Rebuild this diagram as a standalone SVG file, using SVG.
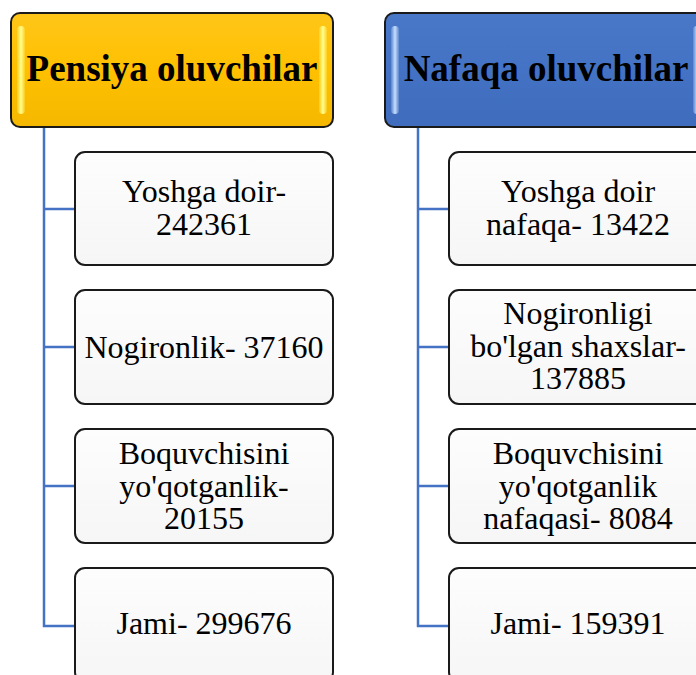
<svg xmlns="http://www.w3.org/2000/svg" width="696" height="675" viewBox="0 0 696 675">
<defs>
<linearGradient id="boxg" x1="0" y1="0" x2="0" y2="1">
<stop offset="0" stop-color="#fdfdfd"/>
<stop offset="1" stop-color="#f6f6f6"/>
</linearGradient>
<linearGradient id="yel" x1="0" y1="0" x2="0" y2="1">
<stop offset="0" stop-color="#ffc61a"/>
<stop offset="0.5" stop-color="#ffc000"/>
<stop offset="1" stop-color="#f5b800"/>
</linearGradient>
<linearGradient id="blu" x1="0" y1="0" x2="0" y2="1">
<stop offset="0" stop-color="#4a78c8"/>
<stop offset="0.5" stop-color="#4472c4"/>
<stop offset="1" stop-color="#3f6cbc"/>
</linearGradient>
<linearGradient id="yhl" x1="0" y1="0" x2="1" y2="0">
<stop offset="0" stop-color="#ffff80" stop-opacity="0.2"/>
<stop offset="0.5" stop-color="#ffff90" stop-opacity="1"/>
<stop offset="1" stop-color="#ffff80" stop-opacity="0.2"/>
</linearGradient>
<linearGradient id="bhl" x1="0" y1="0" x2="1" y2="0">
<stop offset="0" stop-color="#b8d4f8" stop-opacity="0.2"/>
<stop offset="0.5" stop-color="#c8e0ff" stop-opacity="1"/>
<stop offset="1" stop-color="#b8d4f8" stop-opacity="0.2"/>
</linearGradient>
</defs>
<style>
.hdr{stroke:#1a1a1a;stroke-width:2}
.ht{font-family:"Liberation Serif","Times New Roman",serif;font-weight:bold;font-size:37px;fill:#000;text-anchor:middle}
.box{fill:url(#boxg);stroke:#1a1a1a;stroke-width:2}
.bt{font-family:"Liberation Serif","Times New Roman",serif;font-size:32px;fill:#000;text-anchor:middle}
.con{fill:none;stroke:#4472c4;stroke-width:2.5}
</style>
<rect width="696" height="675" fill="#ffffff"/>
<g id="connectors">
<path class="con" d="M44,127 V626 H75 M44,209 H75 M44,347 H75 M44,486 H75"/>
<path class="con" d="M418,127 V626 H449 M418,209 H449 M418,347 H449 M418,486 H449"/>
</g>
<g id="pensiya">
<rect class="hdr" x="11" y="13" width="322" height="114" rx="9" fill="url(#yel)"/>
<rect x="17" y="26" width="8" height="88" rx="4" fill="url(#yhl)"/>
<rect x="319" y="26" width="8" height="88" rx="4" fill="url(#yhl)"/>
<text class="ht" x="172" y="81">Pensiya oluvchilar</text>
</g>
<g id="nafaqa">
<rect class="hdr" x="385" y="13" width="322" height="114" rx="9" fill="url(#blu)"/>
<rect x="391" y="26" width="8" height="88" rx="4" fill="url(#bhl)"/>
<rect x="693" y="26" width="8" height="88" rx="4" fill="url(#bhl)"/>
<text class="ht" x="546" y="81">Nafaqa oluvchilar</text>
</g>
<g id="p1">
<rect class="box" x="75" y="152" width="258" height="113" rx="10"/>
<text class="bt" x="204" y="202">Yoshga doir-</text>
<text class="bt" x="204" y="235">242361</text>
</g>
<g id="p2">
<rect class="box" x="75" y="290" width="258" height="114" rx="10"/>
<text class="bt" x="204" y="358">Nogironlik- 37160</text>
</g>
<g id="p3">
<rect class="box" x="75" y="429" width="258" height="114" rx="10"/>
<text class="bt" x="204" y="464">Boquvchisini</text>
<text class="bt" x="204" y="497">yo'qotganlik-</text>
<text class="bt" x="204" y="529">20155</text>
</g>
<g id="p4">
<rect class="box" x="75" y="568" width="258" height="114" rx="10"/>
<text class="bt" x="204" y="634">Jami- 299676</text>
</g>
<g id="n1">
<rect class="box" x="449" y="152" width="258" height="113" rx="10"/>
<text class="bt" x="578" y="202">Yoshga doir</text>
<text class="bt" x="578" y="235">nafaqa- 13422</text>
</g>
<g id="n2">
<rect class="box" x="449" y="290" width="258" height="114" rx="10"/>
<text class="bt" x="578" y="324">Nogironligi</text>
<text class="bt" x="578" y="357">bo'lgan shaxslar-</text>
<text class="bt" x="578" y="389">137885</text>
</g>
<g id="n3">
<rect class="box" x="449" y="429" width="258" height="114" rx="10"/>
<text class="bt" x="578" y="464">Boquvchisini</text>
<text class="bt" x="578" y="497">yo'qotganlik</text>
<text class="bt" x="578" y="529">nafaqasi- 8084</text>
</g>
<g id="n4">
<rect class="box" x="449" y="568" width="258" height="114" rx="10"/>
<text class="bt" x="578" y="634">Jami- 159391</text>
</g>
</svg>
